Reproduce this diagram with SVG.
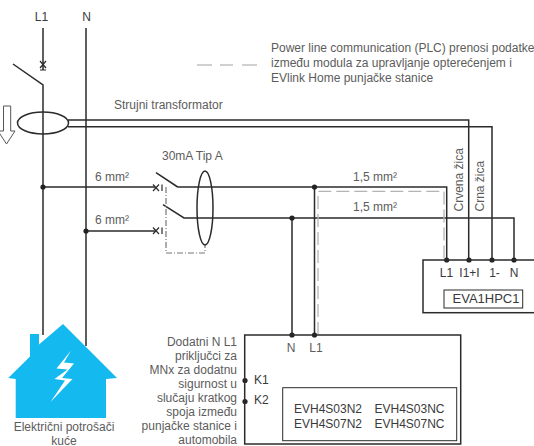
<svg xmlns="http://www.w3.org/2000/svg" width="534" height="446" viewBox="0 0 534 446">
<style>
text{font-family:"Liberation Sans",Arial,sans-serif;font-size:12px;fill:#5c5c5c}
.d{fill:#3a3a3a}
.e{text-anchor:end}
.m{text-anchor:middle}
.w{fill:none;stroke:#2b2b2b;stroke-width:1.5}
.t{fill:none;stroke:#2b2b2b;stroke-width:1.2}
.dot{fill:#222}
.g{fill:none;stroke:#b4b4b4;stroke-width:1.3}
</style>
<rect width="534" height="446" fill="#fff"/>
<g id="connectors">
<path class="w" d="M43 28V70M13 64L43 85V335M86 28V346"/>
<path class="t" d="M40 61L46 68M46 61L40 68M40 70H46"/>
<path class="w" d="M68 120H468.700V260M68 126.700H492V260"/>
<path class="w" d="M43 187H155M177.700 187H446.700V260M156 172.700L177.700 187"/>
<path class="t" d="M153 184.500L159 191M159 184.500L153 191M162 184.500V191"/>
<path class="w" d="M86 231H155M163 204.700L184 218H514V260"/>
<path class="t" d="M153 227.500L159 234M159 227.500L153 234M162 227.500V234"/>
<path class="w" d="M292 218V335M314.500 187V335"/>
<path class="g" stroke-dasharray="13 5" d="M318 335V191.300H444V260"/>
<path fill="none" stroke="#777" stroke-width="1.200" stroke-dasharray="6 2 1 2" d="M166 187V253H205V245"/>
<g class="dot"><circle cx="43" cy="187" r="2.600"/><circle cx="86" cy="231" r="2.600"/><circle cx="314.500" cy="187" r="2.600"/><circle cx="292" cy="218" r="2.600"/><circle cx="446.700" cy="260" r="2.600"/><circle cx="469" cy="260" r="2.600"/><circle cx="492" cy="260" r="2.600"/><circle cx="514" cy="260" r="2.600"/><circle cx="292" cy="335" r="2.600"/><circle cx="314.500" cy="335" r="2.600"/><circle cx="245" cy="380.500" r="2.600"/><circle cx="245" cy="401.500" r="2.600"/></g>
</g>
<g id="line-legend"><path fill="none" stroke="#a0a0a0" d="M197 65H212M220 65H233M242 65H257"/>
<text x="271" y="52">Power line communication (PLC) prenosi podatke</text>
<text x="271" y="67">između modula za upravljanje opterećenjem i</text>
<text x="271" y="82">EVlink Home punjačke stanice</text></g>
<g id="supply"><text class="m d" x="41.500" y="21">L1</text><text class="m d" x="86.500" y="21">N</text></g>
<g id="transformer"><ellipse cx="43" cy="123" rx="25.500" ry="11" fill="none" stroke="#2b2b2b" stroke-width="1.500"/><text x="114" y="109">Strujni transformator</text>
<path fill="#fff" stroke="#555" d="M3.500 106H10.700V131H15L6.500 144L-2 131H3.500Z"/></g>
<g id="rcd"><ellipse cx="205" cy="208" rx="8" ry="37" fill="none" stroke="#2b2b2b" stroke-width="1.500"/><text x="162" y="160">30mA Tip A</text>
<text x="95" y="181">6 mm²</text><text x="95" y="224">6 mm²</text><text x="353" y="181">1,5 mm²</text><text x="353" y="211">1,5 mm²</text></g>
<g id="wire-labels"><text transform="translate(463 211.500) rotate(-90)">Crvena žica</text><text transform="translate(484 211.500) rotate(-90)">Crna žica</text></g>
<g id="eva"><rect x="423" y="260" width="120" height="52.700" fill="none" stroke="#2b2b2b" stroke-width="1.500"/><rect x="444" y="290" width="78.700" height="18" fill="none" stroke="#2b2b2b"/>
<text class="m d" x="446.500" y="277">L1</text><text class="m d" x="469.500" y="277">I1+I</text><text class="m d" x="494.500" y="277">1-</text><text class="m d" x="514" y="277">N</text><text class="m d" x="486" y="303" style="font-size:13px">EVA1HPC1</text></g>
<g id="evh"><rect x="244.700" y="335" width="216" height="109" fill="none" stroke="#2b2b2b" stroke-width="1.500"/><rect x="282.700" y="387.700" width="174" height="53" fill="none" stroke="#2b2b2b"/>
<text class="m" x="291" y="352">N</text><text class="m" x="316" y="352">L1</text><text class="d" x="254" y="384">K1</text><text class="d" x="254" y="404">K2</text>
<text class="d" x="294" y="413">EVH4S03N2</text><text class="d" x="374.500" y="413">EVH4S03NC</text><text class="d" x="294" y="428">EVH4S07N2</text><text class="d" x="374.500" y="428">EVH4S07NC</text>
<text class="e" x="237" y="346">Dodatni N L1</text><text class="e" x="237" y="360">priključci za</text><text class="e" x="237" y="374">MNx za dodatnu</text><text class="e" x="237" y="388">sigurnost u</text><text class="e" x="237" y="402">slučaju kratkog</text><text class="e" x="237" y="416">spoja između</text><text class="e" x="237" y="430">punjačke stanice i</text><text class="e" x="237" y="444">automobila</text></g>
<g id="house"><path fill="#14b9ef" d="M63 324L117 378L106 379V418H15.700V379L8.300 378L30 356.500V334H39V344.500Z"/>
<path fill="#fff" d="M71 350.500L56.500 368.500L67.500 369.500L54.500 379L65 380.500L50.500 402L72.500 379L62 378L74 363.500L64 362.500Z"/>
<text class="m" x="64" y="431">Električni potrošači</text><text class="m" x="64" y="444.500">kuće</text></g>
</svg>
